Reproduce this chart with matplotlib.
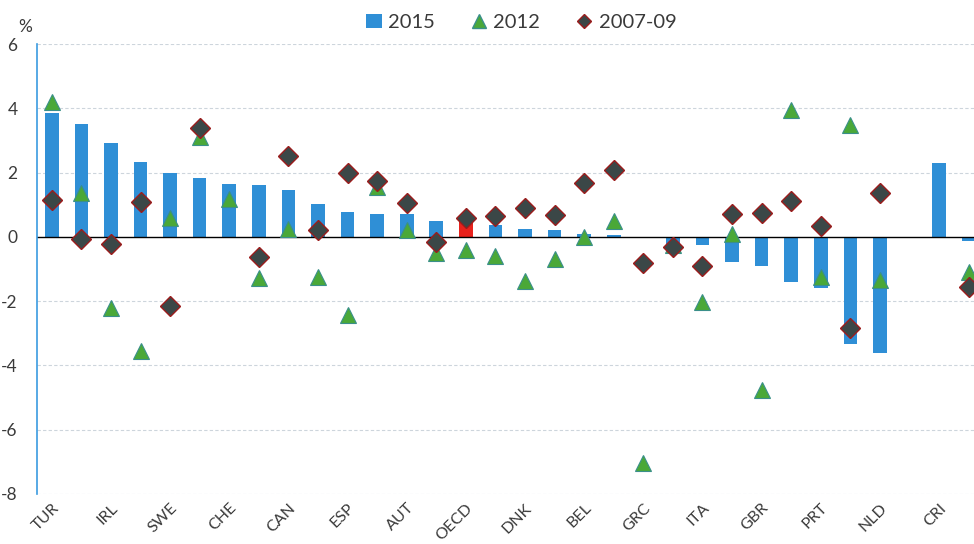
import numpy as np
import matplotlib
matplotlib.use("Agg")
import matplotlib.pyplot as plt
from matplotlib.lines import Line2D
from matplotlib.patches import Patch

plt.rcParams['font.family'] = ['Lato', 'DejaVu Sans']

nan = np.nan
categories = ["TUR", "", "IRL", "", "SWE", "", "CHE", "", "CAN", "", "ESP", "",
              "AUT", "", "OECD", "", "DNK", "", "BEL", "", "GRC", "", "ITA", "",
              "GBR", "", "PRT", "", "NLD", "", "CRI", ""]
highlight = "OECD"

v2015 = [3.86, 3.51, 2.93, 2.32, 2.00, 1.82, 1.64, 1.60, 1.47, 1.03, 0.77, 0.72,
         0.70, 0.48, 0.45, 0.38, 0.24, 0.22, 0.10, 0.05, nan, -0.35, -0.25, -0.79,
         -0.90, -1.40, -1.60, -3.32, -3.61, nan, 2.29, -0.13]
v2012 = [4.20, 1.38, -2.20, -3.55, 0.58, 3.10, 1.17, -1.28, 0.24, -1.25, -2.43, 1.56,
         0.22, -0.50, -0.40, -0.60, -1.38, -0.70, 0.00, 0.48, -7.05, -0.25, -2.04, 0.10,
         -4.77, 3.95, -1.24, 3.48, -1.35, nan, nan, -1.08]
v2007 = [1.15, -0.07, -0.23, 1.07, -2.14, 3.40, nan, -0.64, 2.51, 0.20, 1.98, 1.74,
         1.05, -0.15, 0.58, 0.65, 0.91, 0.68, 1.69, 2.08, -0.80, -0.31, -0.92, 0.70,
         0.74, 1.12, 0.35, -2.83, 1.38, nan, nan, -1.56]

yticks = [-8, -6, -4, -2, 0, 2, 4, 6]

bar_color = "#2f8fd6"
red_color = "#e8221c"
tri_face = "#4aa838"
tri_edge = "#3a8f8a"
dia_face = "#3b4747"
dia_edge = "#9b1c1c"
text_color = "#3a3a3a"

fig = plt.figure(figsize=(9.74, 5.44), dpi=100)
ax = fig.add_axes([0.038, 0.092, 0.962, 0.827])

x = np.arange(len(categories))
colors = [red_color if c == highlight else bar_color for c in categories]
ax.bar(x, v2015, width=0.46, color=colors, zorder=2)
ax.plot(x, v2012, linestyle='none', marker='^', markersize=11,
        markerfacecolor=tri_face, markeredgecolor=tri_edge, markeredgewidth=0.8, zorder=3)
ax.plot(x, v2007, linestyle='none', marker='D', markersize=10,
        markerfacecolor=dia_face, markeredgecolor=dia_edge, markeredgewidth=1.0, zorder=4)

ax.axhline(0, color='black', linewidth=1.0, zorder=2.5)

ax.set_xlim(-0.5, 31.18)
ax.set_ylim(-8, 6)
ax.set_yticks(yticks)
ax.set_yticklabels([str(t) for t in yticks], fontsize=12.5, color=text_color)
for t in yticks:
    if t != 0:
        ax.axhline(t, color='#cdd5dc', linewidth=0.8, linestyle=(0, (3, 2)), zorder=1)

ax.set_xticks(x)
ax.set_xticklabels(categories, rotation=45, ha='right', rotation_mode='anchor',
                   fontsize=11.5, color=text_color)
ax.tick_params(axis='both', length=0)
ax.tick_params(axis='y', pad=14)
ax.tick_params(axis='x', pad=5)

for s in ['top', 'right', 'bottom']:
    ax.spines[s].set_visible(False)
ax.spines['left'].set_color('#3b9be0')
ax.spines['left'].set_linewidth(1.2)

fig.text(0.026, 0.951, "%", fontsize=12.5, color=text_color, ha='center', va='center')

handles = [
    Patch(facecolor=bar_color, edgecolor='none', label='2015'),
    Line2D([], [], linestyle='none', marker='^', markersize=10,
           markerfacecolor=tri_face, markeredgecolor=tri_edge, label='2012'),
    Line2D([], [], linestyle='none', marker='D', markersize=7.5,
           markerfacecolor=dia_face, markeredgecolor=dia_edge, label='2007-09'),
]
fig.legend(handles=handles, loc='center', bbox_to_anchor=(0.535, 0.958), ncol=3,
           frameon=False, fontsize=14.5, handlelength=0.8, handletextpad=0.3,
           columnspacing=1.8, labelcolor=text_color)

fig.savefig("out.png", dpi=100)
